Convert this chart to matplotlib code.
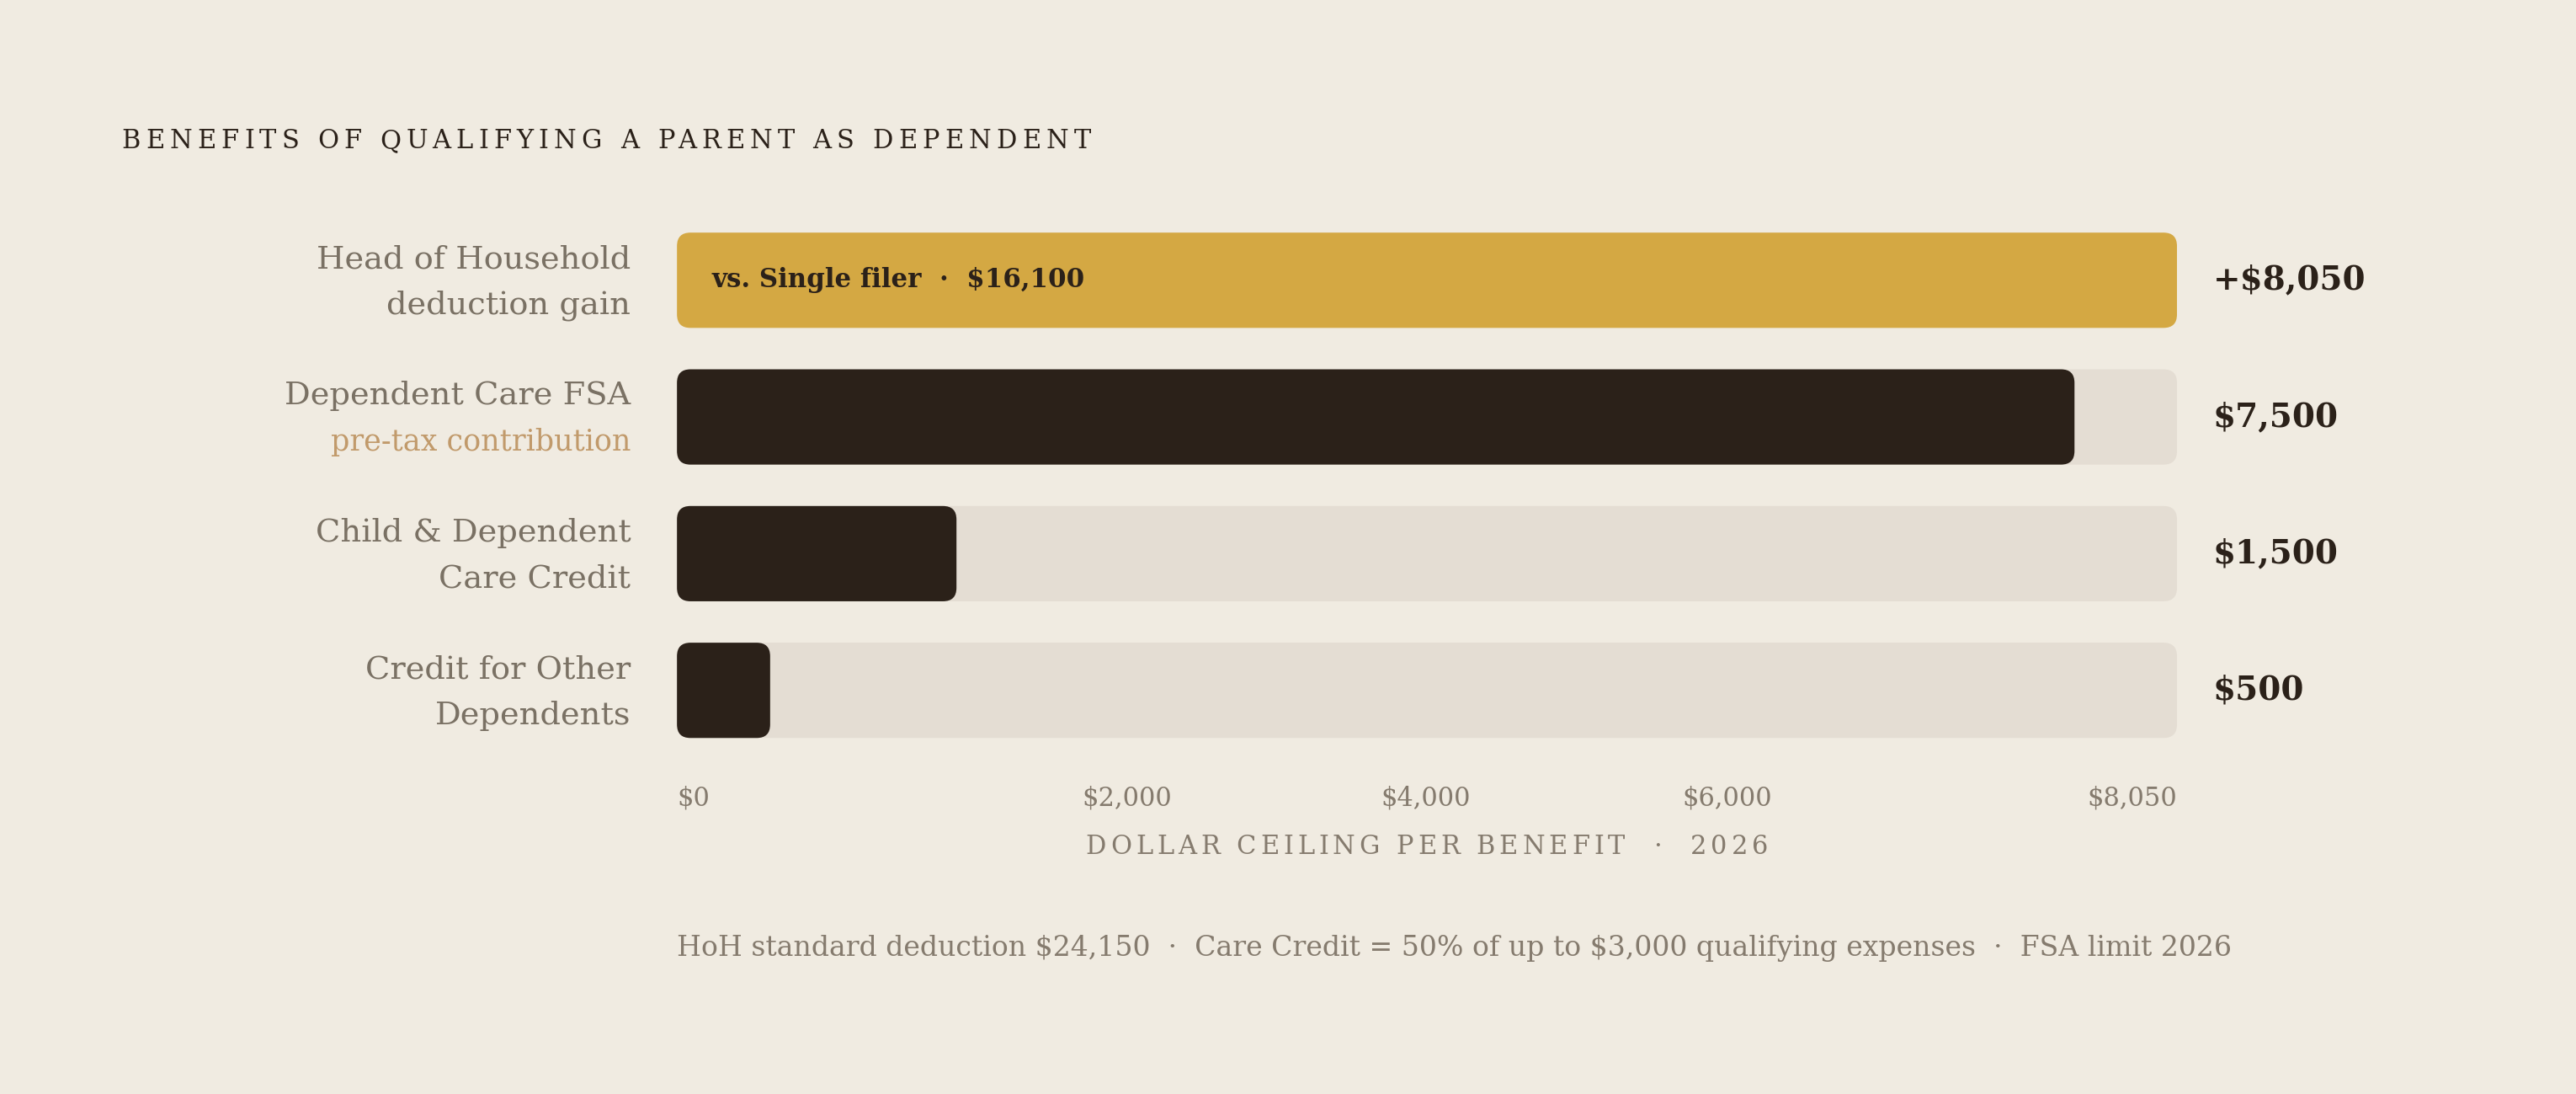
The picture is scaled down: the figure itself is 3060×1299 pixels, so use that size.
import matplotlib
matplotlib.use('Agg')
import matplotlib.pyplot as plt
from matplotlib.patches import FancyBboxPatch
from matplotlib.font_manager import FontProperties

plt.rcParams['text.parse_math'] = False

# Data
categories = [
    ("Head of Household", "deduction gain"),
    ("Dependent Care FSA", "pre-tax contribution"),
    ("Child & Dependent", "Care Credit"),
    ("Credit for Other", "Dependents"),
]
values = [8050, 7500, 1500, 500]
value_labels = ["+$8,050", "$7,500", "$1,500", "$500"]
scale_max = 8050
highlight_note = "vs. Single filer  \u00b7  $16,100"
tick_pos = [0, 2416, 4020, 5634, 8050]
tick_labels = ["$0", "$2,000", "$4,000", "$6,000", "$8,050"]
axis_title = "DOLLAR CEILING PER BENEFIT  \u00b7  2026"
chart_title = "BENEFITS OF QUALIFYING A PARENT AS DEPENDENT"
footnote = ("HoH standard deduction $24,150  \u00b7  Care Credit = 50% of up to "
            "$3,000 qualifying expenses  \u00b7  FSA limit 2026")

# Style
BG = '#f0ebe1'
TRACK = '#e4ddd3'
DARK = '#2b2119'
GOLD = '#d4a843'
GRAY = '#7a7164'
TAN = '#c19a6b'
TICK = '#857b6e'
SERIF = 'DejaVu Serif'

W, H, DPI = 3060, 1299, 200
fig = plt.figure(figsize=(W / DPI, H / DPI), dpi=DPI, facecolor=BG)

ax_left, ax_bottom, ax_w, ax_h = 0.2628, 0.3065, 0.5823, 0.4998
ax = fig.add_axes([ax_left, ax_bottom, ax_w, ax_h])
ax.set_facecolor(BG)
ax.set_xlim(0, scale_max)
ax.set_ylim(len(values) - 0.5, -0.5)
for s in ax.spines.values():
    s.set_visible(False)
ax.set_yticks([])

bar_h = 0.697
radius_px = 16
ax_w_px, ax_h_px = ax_w * W, ax_h * H
x_per_px = scale_max / ax_w_px
y_per_px = len(values) / ax_h_px
r_data = radius_px * x_per_px
aspect = y_per_px / x_per_px


def rounded_bar(y, width, color):
    p = FancyBboxPatch((0, y - bar_h / 2), width, bar_h,
                       boxstyle=f"round,pad=0,rounding_size={r_data}",
                       mutation_aspect=aspect, linewidth=0,
                       facecolor=color, edgecolor='none')
    ax.add_patch(p)


for i, (val, (l1, l2)) in enumerate(zip(values, categories)):
    if i == 0:
        rounded_bar(i, val, GOLD)
        ax.text(0.023, i, highlight_note, transform=ax.get_yaxis_transform(),
                ha='left', va='center', fontsize=11.1, fontweight='bold',
                family=SERIF, color=DARK)
    else:
        rounded_bar(i, scale_max, TRACK)
        rounded_bar(i, val, DARK)
    ax.text(1.0241, i, value_labels[i], transform=ax.get_yaxis_transform(),
            ha='left', va='center', fontsize=14, fontweight='bold',
            family=SERIF, color=DARK)
    ax.text(-0.0307, i - 0.152, l1, transform=ax.get_yaxis_transform(),
            ha='right', va='center', fontsize=13.8, family=SERIF, color=GRAY)
    ax.text(-0.0307, i + 0.186, l2, transform=ax.get_yaxis_transform(),
            ha='right', va='center', fontsize=12.6 if i == 1 else 13.8,
            family=SERIF, color=TAN if i == 1 else GRAY)

ax.set_xticks(tick_pos, tick_labels)
ax.tick_params(axis='x', length=0, pad=11.5, labelsize=11, labelcolor=TICK)
for lab, ha in zip(ax.get_xticklabels(),
                   ['left', 'center', 'center', 'center', 'right']):
    lab.set_ha(ha)
    lab.set_family(SERIF)


def spaced_text(x, y, s, size, color, tracking, ha='left'):
    """Draw letter-spaced text in figure fraction coords."""
    renderer = fig.canvas.get_renderer()
    fp = FontProperties(family=SERIF, size=size)

    def width(t):
        if not t:
            return 0.0
        return renderer.get_text_width_height_descent(t, fp, ismath=False)[0]

    track_px = tracking * size * DPI / 72
    total = width(s) + track_px * (len(s) - 1)
    x0 = x * W
    if ha == 'center':
        x0 -= total / 2
    for i, ch in enumerate(s):
        if ch == ' ':
            continue
        pos = width(s[:i + 1]) - width(ch) + track_px * i
        fig.text((x0 + pos) / W, y, ch, fontproperties=fp, color=color,
                 ha='left', va='center')


spaced_text(74 / 1568, 1 - 86 / 665.6, chart_title, 11, DARK, 0.2)
spaced_text((ax_left + ax_w / 2), 1 - 515 / 665.6, axis_title, 11, TICK, 0.16,
            ha='center')

fig.text(ax_left, 1 - 577 / 665.6, footnote, ha='left', va='center',
         fontsize=11.95, family=SERIF, color=TICK)

fig.savefig('out.png', dpi=DPI, facecolor=BG)
